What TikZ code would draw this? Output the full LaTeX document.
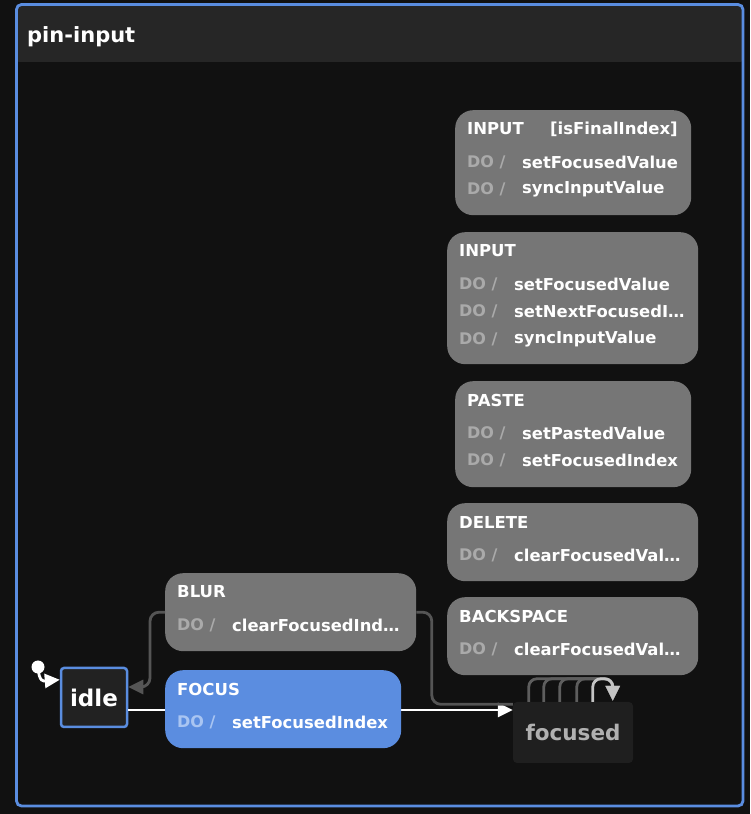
\documentclass[tikz,border=0pt]{standalone}
\usepackage{fontspec}
\setmainfont{DejaVu Sans}
\usepackage{xcolor}
\usepackage{tikz}
\usetikzlibrary{arrows.meta,positioning}

\definecolor{pagebg}{HTML}{111111}
\definecolor{headbg}{HTML}{262626}
\definecolor{frameblue}{HTML}{5A8DE0}
\definecolor{boxgray}{HTML}{767676}
\definecolor{dogray}{HTML}{AAAAAA}
\definecolor{focusblue}{HTML}{5B8DE0}
\definecolor{dofocus}{HTML}{A9C5F2}
\definecolor{idlebg}{HTML}{222222}
\definecolor{focusedbg}{HTML}{1F1F1F}
\definecolor{focusedtxt}{HTML}{B0B0B0}
\definecolor{blurgray}{HTML}{555555}
\definecolor{loopgray}{HTML}{5E5E5E}
\definecolor{looplight}{HTML}{C4C4C4}

\tikzset{
	evt/.style={fill=boxgray, rounded corners=18pt, anchor=north west, inner sep=0pt},
	evtname/.style={anchor=west, inner sep=0pt, text=white, font=\bfseries\fontsize{16.5}{16}\selectfont},
	dotxt/.style={anchor=west, inner sep=0pt, text=dogray, font=\bfseries\fontsize{16}{16}\selectfont},
	acttxt/.style={anchor=west, inner sep=0pt, text=white, font=\bfseries\fontsize{16.4}{16}\selectfont},
	edge/.style={line width=2.8pt, rounded corners=9pt},
	tip/.style={-{Triangle[length=15pt, width=14pt]}},
}

% rows of actions inside an event box
\newcommand{\evrows}[2]{%
	\foreach \act [count=\i] in {#2} {
		\node[dotxt] at ([shift={(12,{-24.5-27.5*\i})}]#1.north west) {DO /};
		\node[acttxt] at ([shift={(67,{-24.5-27.5*\i})}]#1.north west) {\act};
	}}

\begin{document}
\begin{tikzpicture}[x=1pt, y=1pt]
	% Background and frame
	\fill[pagebg] (0,0) rectangle (750,814);
	\useasboundingbox (0,0) rectangle (750,814);
	\fill[headbg, rounded corners=5pt] (16.5,751) rectangle (743,809.5);
	\fill[pagebg] (16.5,751) rectangle (743,752);
	\draw[frameblue, line width=2.8pt, rounded corners=5pt] (16.5,8) rectangle (743,809.5);
	\node[anchor=base west, inner sep=0pt, text=white, font=\bfseries\fontsize{21}{21}\selectfont] (title) at (27,771) {pin-input};

	% States
	\node[draw=frameblue, line width=2.5pt, fill=idlebg, rounded corners=3pt, minimum width=66, minimum height=59, text=white, font=\bfseries\fontsize{23}{23}\selectfont] (idle) at (94,116.5) {idle};
	\node[fill=focusedbg, rounded corners=4pt, minimum width=120, minimum height=61, text=focusedtxt, font=\bfseries\fontsize{21.5}{21}\selectfont] (focused) at (573,81.5) {focused};

	% Initial transition
	\fill[white] (38,147) circle (6.5);
	\coordinate (init) at (38,147);
	\draw[white, edge, tip] (init) .. controls (39,131) and (44,133) .. ([yshift=-13]idle.north west);

	% FOCUS: idle -> focused
	\draw[white, edge, tip] ([yshift=-12.5]idle.east) -- ([yshift=-12.5]idle.east -| focused.west);

	% BLUR: focused -> idle
	\node[evt, minimum width=251, minimum height=78] (blur) at (165,241) {};
	\draw[blurgray, edge] ([yshift=-2.5]focused.north west) -- ++(-81,0) |- (blur.east);
	\draw[blurgray, edge, tip] (blur.west) -- ++(-15,0) |- ([yshift=10.5]idle.east);
	\node[evtname] at ([shift={(12,-19)}]blur.north west) {BLUR};
	\evrows{blur}{clearFocusedInd…}

	\node[evt, fill=focusblue, minimum width=236, minimum height=78] (focus) at (165,144) {};
	\node[evtname] at ([shift={(12,-19)}]focus.north west) {FOCUS};
	\node[dotxt, text=dofocus] at ([shift={(12,-52)}]focus.north west) {DO /};
	\node[acttxt] at ([shift={(67,-52)}]focus.north west) {setFocusedIndex};

	% Self transitions on focused
	\foreach \dx/\col in {16/loopgray, 31/loopgray, 47/loopgray, 64/loopgray, 80/looplight}
		\draw[\col, edge, rounded corners=8pt, tip] ([xshift=\dx]focused.north west) -- ++(0,23) -| ([xshift=100, yshift=1]focused.north west);

	% Event boxes on the right
	\node[evt, minimum width=236, minimum height=105] (inFinal) at (455,704) {};
	\node[evtname] at ([shift={(12,-19)}]inFinal.north west) {INPUT};
	\node[evtname] at ([shift={(95,-19)}]inFinal.north west) {[isFinalIndex]};
	\evrows{inFinal}{setFocusedValue, syncInputValue}

	\node[evt, minimum width=251, minimum height=132] (input) at (447,582) {};
	\node[evtname] at ([shift={(12,-19)}]input.north west) {INPUT};
	\evrows{input}{setFocusedValue, setNextFocusedI…, syncInputValue}

	\node[evt, minimum width=236, minimum height=106] (paste) at (455,433) {};
	\node[evtname] at ([shift={(12,-19)}]paste.north west) {PASTE};
	\evrows{paste}{setPastedValue, setFocusedIndex}

	\node[evt, minimum width=251, minimum height=78] (delete) at (447,311) {};
	\node[evtname] at ([shift={(12,-19)}]delete.north west) {DELETE};
	\evrows{delete}{clearFocusedVal…}

	\node[evt, minimum width=251, minimum height=78] (backspace) at (447,217) {};
	\node[evtname] at ([shift={(12,-19)}]backspace.north west) {BACKSPACE};
	\evrows{backspace}{clearFocusedVal…}
\end{tikzpicture}
\end{document}
